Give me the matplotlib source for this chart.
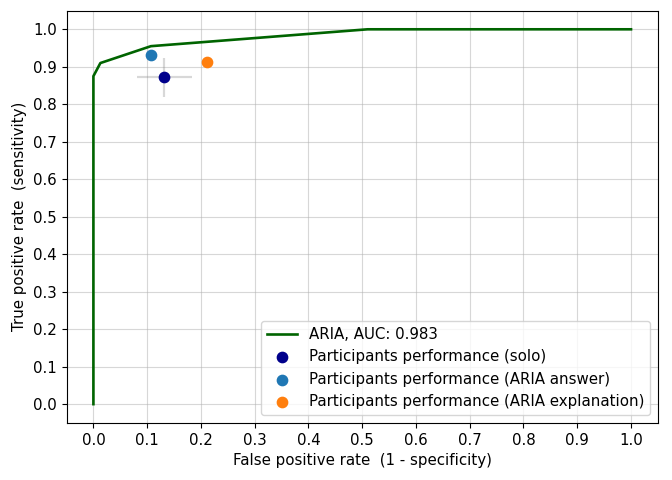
import matplotlib
matplotlib.use("Agg")
import matplotlib.pyplot as plt
import numpy as np

plt.rcParams["font.size"] = 10.8

# ROC curve of ARIA
fpr = [0.0, 0.0, 0.013, 0.107, 0.51, 1.0]
tpr = [0.0, 0.875, 0.91, 0.955, 1.0, 1.0]
auc = 0.983

# participants
solo_fpr, solo_tpr = 0.132, 0.872
solo_fpr_err, solo_tpr_err = 0.051, 0.052
answer_fpr, answer_tpr = 0.108, 0.932
expl_fpr, expl_tpr = 0.211, 0.913

ticks = np.round(np.arange(0, 1.01, 0.1), 1)

fig = plt.figure(figsize=(6.72, 4.8), dpi=100)
ax = fig.add_axes([0.099, 0.119, 0.88, 0.859])

ax.plot(fpr, tpr, color="darkgreen", lw=1.9, label=f"ARIA, AUC: {auc}")
ax.errorbar(solo_fpr, solo_tpr, xerr=solo_fpr_err, yerr=solo_tpr_err,
            fmt="none", ecolor="gray", alpha=0.3, lw=1.6)
ax.scatter(solo_fpr, solo_tpr, color="darkblue", s=55, zorder=3,
           label="Participants performance (solo)")
ax.scatter(answer_fpr, answer_tpr, color="tab:blue", s=55, zorder=3,
           label="Participants performance (ARIA answer)")
ax.scatter(expl_fpr, expl_tpr, color="tab:orange", s=55, zorder=3,
           label="Participants performance (ARIA explanation)")

ax.set_xlim(-0.05, 1.05)
ax.set_ylim(-0.05, 1.05)
ax.set_xticks(ticks)
ax.set_yticks(ticks)
ax.grid(True, alpha=0.5)
ax.set_xlabel("False positive rate  (1 - specificity)")
ax.set_ylabel("True positive rate  (sensitivity)")
ax.legend(loc="lower right")

fig.savefig("out.png", dpi=100)
